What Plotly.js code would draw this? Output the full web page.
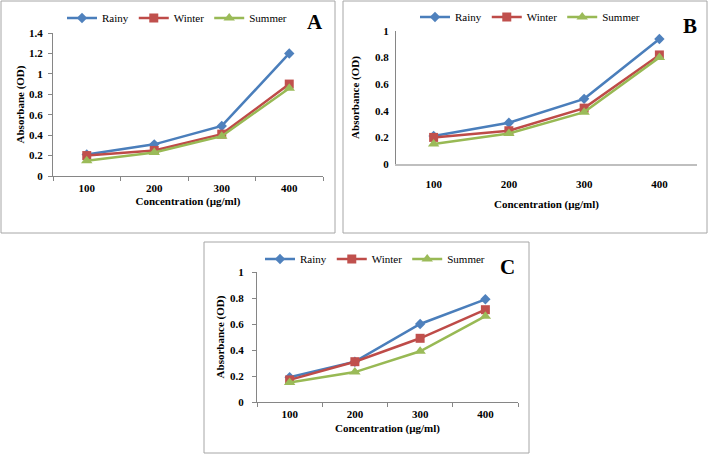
<!DOCTYPE html>
<html>
<head>
<meta charset="utf-8">
<script src="https://cdn.plot.ly/plotly-3.0.1.min.js"></script>
<style>html,body{margin:0;padding:0;background:#fff;}#chart{width:708px;height:455px;}</style>
</head>
<body>
<div id="chart"></div>
<script>
// ---- data ----
const concentrations = ['100', '200', '300', '400'];
const seriesNames = ['Rainy', 'Winter', 'Summer'];

const rainyA  = [0.21, 0.31, 0.49, 1.20];
const winterA = [0.20, 0.25, 0.41, 0.90];
const summerA = [0.15, 0.23, 0.39, 0.86];

const rainyB  = [0.21, 0.31, 0.49, 0.94];
const winterB = [0.20, 0.25, 0.42, 0.82];
const summerB = [0.15, 0.23, 0.39, 0.80];

const rainyC  = [0.19, 0.31, 0.60, 0.79];
const winterC = [0.17, 0.31, 0.49, 0.71];
const summerC = [0.15, 0.23, 0.39, 0.66];

const panelLetters = ['A', 'B', 'C'];
const yTitles = ['Absorbane (OD)', 'Absorbance (OD)', 'Absorbance (OD)'];
const xTitle = 'Concentration (µg/ml)';

// ---- styling ----
const W = 708, H = 455;
const FONT = 'Liberation Serif, Times New Roman, Times, DejaVu Serif, serif';
const styles = [
  {line: '#4A7EBB', marker: '#4F81BD', symbol: 'diamond', size: 8},
  {line: '#BE4B48', marker: '#C0504D', symbol: 'square', size: 9},
  {line: '#98B954', marker: '#9BBB59', symbol: 'triangle-up', size: 10}
];
const px = v => v / W;
const py = v => 1 - v / H;

const panels = [
  {data: [rainyA, winterA, summerA], xa: 'x', ya: 'y', leg: 'legend'},
  {data: [rainyB, winterB, summerB], xa: 'x2', ya: 'y2', leg: 'legend2'},
  {data: [rainyC, winterC, summerC], xa: 'x3', ya: 'y3', leg: 'legend3'}
];

const traces = [];
panels.forEach(p => {
  p.data.forEach((vals, i) => {
    traces.push({
      type: 'scatter', mode: 'lines+markers',
      x: concentrations, y: vals, name: seriesNames[i],
      xaxis: p.xa, yaxis: p.ya, legend: p.leg,
      line: {color: styles[i].line, width: 2.5},
      marker: {color: styles[i].marker, symbol: styles[i].symbol, size: styles[i].size}
    });
  });
});

const tickFont = {family: FONT, size: 11, color: '#000', weight: 'bold'};
const titleFont = {family: FONT, size: 11, color: '#000', weight: 'bold'};

function xAxis(d0, d1, anchor, opts) {
  return Object.assign({
    domain: [px(d0), px(d1)], anchor: anchor, type: 'category',
    range: [-0.5, 3.5], showgrid: false, zeroline: false,
    showline: true, linecolor: '#868686', linewidth: 1,
    ticks: 'outside', tickson: 'boundaries', ticklen: 4, tickcolor: '#868686',
    tickfont: tickFont, fixedrange: true, automargin: false,
    title: {text: xTitle, font: titleFont}
  }, opts);
}
function yAxis(d0, d1, anchor, range, title, opts) {
  return Object.assign({
    domain: [py(d1), py(d0)], anchor: anchor, range: range, dtick: 0.2,
    showgrid: false, zeroline: false,
    showline: true, linecolor: '#868686', linewidth: 1,
    ticks: 'outside', ticklen: 4, tickcolor: '#868686',
    tickfont: tickFont, fixedrange: true, automargin: false,
    title: {text: title, font: titleFont}
  }, opts);
}

function legendAt(x, y) {
  return {orientation: 'h', x: px(x), y: py(y), xanchor: 'left', yanchor: 'middle',
    font: {family: FONT, size: 11, color: '#000'}, bgcolor: 'rgba(0,0,0,0)',
    itemwidth: 30, tracegroupgap: 0};
}

const layout = {
  width: W, height: H,
  margin: {l: 0, r: 0, t: 0, b: 0},
  paper_bgcolor: '#fff', plot_bgcolor: 'rgba(0,0,0,0)',
  showlegend: true,
  font: {family: FONT},
  xaxis:  xAxis(53, 323, 'y',  {title: {text: xTitle, font: titleFont, standoff: 4}, ticklabelstandoff: 2}),
  yaxis:  yAxis(33, 176, 'x', [0, 1.4], yTitles[0], {ticklabelstandoff: 3, title: {text: yTitles[0], font: titleFont, standoff: 2}}),
  xaxis2: xAxis(396, 697, 'y2', {ticks: '', linecolor: '#BFBFBF', linewidth: 2, ticklabelstandoff: 9, title: {text: xTitle, font: titleFont, standoff: 11}}),
  yaxis2: yAxis(31, 164, 'x2', [0, 1], yTitles[1], {ticks: '', ticklabelstandoff: 4, title: {text: yTitles[1], font: titleFont, standoff: 13}}),
  xaxis3: xAxis(257, 518, 'y3', {ticklabelstandoff: 2, title: {text: xTitle, font: titleFont, standoff: 5}}),
  yaxis3: yAxis(272, 402, 'x3', [0, 1], yTitles[2], {ticklabelstandoff: 6, title: {text: yTitles[2], font: titleFont, standoff: 3}}),
  legend:  legendAt(62, 18),
  legend2: legendAt(415, 17),
  legend3: legendAt(260, 259),
  shapes: [
    {type: 'rect', xref: 'paper', yref: 'paper', x0: px(1), x1: px(335), y0: py(233), y1: py(1), line: {color: '#A6A6A6', width: 1}},
    {type: 'rect', xref: 'paper', yref: 'paper', x0: px(343), x1: px(707), y0: py(233), y1: py(1), line: {color: '#A6A6A6', width: 1}},
    {type: 'rect', xref: 'paper', yref: 'paper', x0: px(204), x1: px(529), y0: py(453), y1: py(242), line: {color: '#A6A6A6', width: 1}}
  ],
  annotations: [
    {text: panelLetters[0], x: px(315), y: py(22)},
    {text: panelLetters[1], x: px(690), y: py(26)},
    {text: panelLetters[2], x: px(507), y: py(267)}
  ].map(a => Object.assign(a, {xref: 'paper', yref: 'paper', showarrow: false,
      xanchor: 'center', yanchor: 'middle', font: {family: FONT, size: 21, color: '#000', weight: 'bold'}}))
};

Plotly.newPlot('chart', traces, layout, {displayModeBar: false, staticPlot: true});
</script>
</body>
</html>
